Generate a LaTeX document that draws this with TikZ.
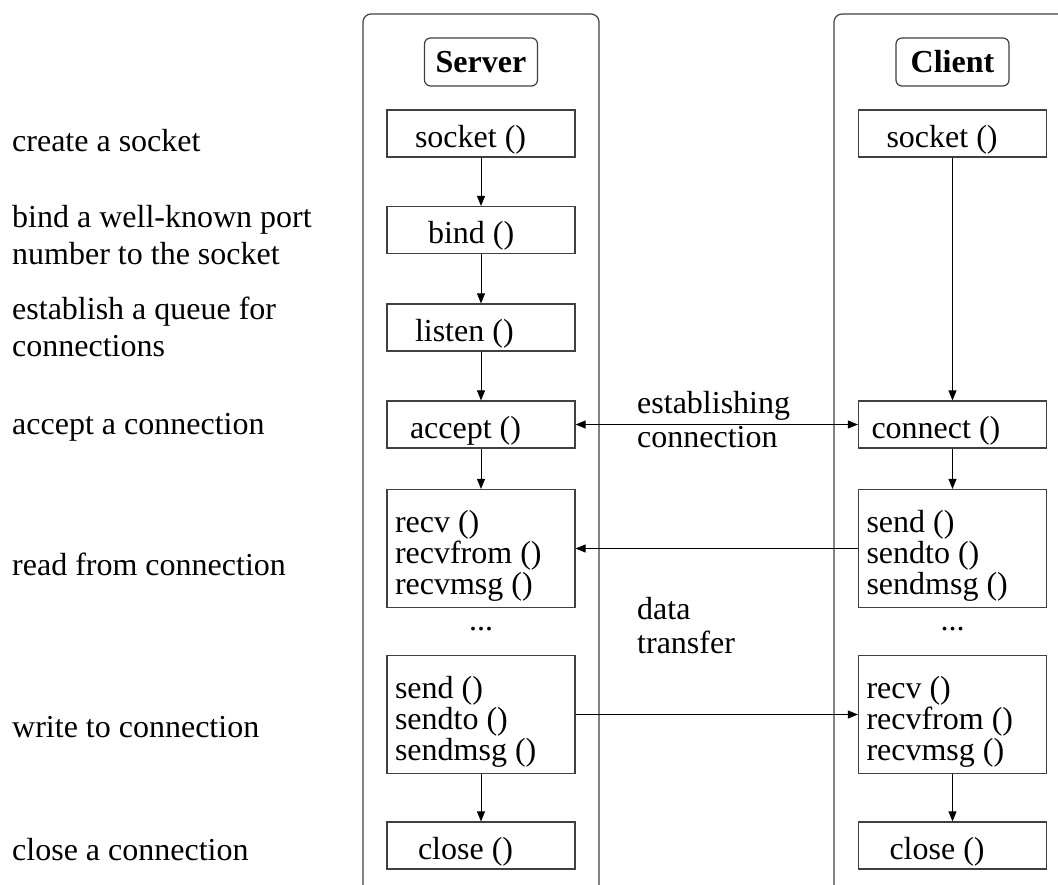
\documentclass[tikz,border=0pt]{standalone}
\usepackage{fontspec}
\setmainfont{Liberation Serif}
\usetikzlibrary{arrows.meta}
\newcommand\diagfont{\fontsize{32bp}{37bp}\selectfont}
\newcommand\callfont{\fontsize{32bp}{31bp}\selectfont}
\newcommand\midfont{\fontsize{32bp}{34bp}\selectfont}
\begin{document}
\begin{tikzpicture}[x=1bp,y=-1bp,
  every node/.style={execute at begin node={\spaceskip=0pt\xspaceskip=0pt}},
  lane/.style={draw=black!75, line width=1.2bp, rounded corners=8bp},
  head/.style={draw=black!75, line width=1.2bp, rounded corners=6bp,
    minimum width=113bp, minimum height=48bp, inner sep=0pt,
    font=\diagfont\bfseries},
  call/.style={draw=black!75, line width=1.2bp, minimum width=188bp,
    minimum height=47bp, text width=172bp, inner xsep=8bp, inner ysep=0pt,
    align=left, text height=27bp, text depth=0bp, font=\callfont},
  calls/.style={call, minimum height=118bp, text height=24bp, text depth=56bp},
  note/.style={anchor=base west, inner sep=0pt, text width=340bp,
    align=left, font=\diagfont},
  midnote/.style={anchor=base west, inner sep=0pt, text width=190bp,
    align=left, font=\midfont},
  dots/.style={anchor=base, inner sep=0pt, font=\diagfont},
  tip/.tip={Triangle[length=10bp,width=8bp]},
  flow/.style={-tip, line width=0.9bp},
  both/.style={tip-tip, line width=0.9bp}]
\useasboundingbox (0,0) rectangle (1058,885);

% swim lanes, open at the bottom
\draw[lane] (363,885) -- (363,14) -- (599,14) -- (599,885);
\draw[lane] (834,885) -- (834,14) -- (1058,14);

% lane titles
\node[head] (shead) at (481,62) {Server};
\node[head] (chead) at (952.5,62) {Client};

% server calls
\node[call]  (ssock)  at (481,133.5) {\hspace*{20bp}socket ()};
\node[call]  (sbind)  at (481,230)   {\hspace*{33bp}bind ()};
\node[call]  (slist)  at (481,327.5) {\hspace*{20bp}listen ()};
\node[call]  (sacc)   at (481,424.5) {\hspace*{15bp}accept ()};
\node[calls] (srecv)  at (481,548.5) {recv ()\\recvfrom ()\\recvmsg ()};
\node[calls] (ssend)  at (481,714.5) {send ()\\sendto ()\\sendmsg ()};
\node[call]  (sclose) at (481,845.5) {\hspace*{23bp}close ()};
\node[dots]  (sdots)  at (481,630)   {...};

% client calls
\node[call]  (csock)  at (952.5,133.5) {\hspace*{20bp}socket ()};
\node[call]  (cconn)  at (952.5,424.5) {\hspace*{5bp}connect ()};
\node[calls] (csend)  at (952.5,548.5) {send ()\\sendto ()\\sendmsg ()};
\node[calls] (crecv)  at (952.5,714.5) {recv ()\\recvfrom ()\\recvmsg ()};
\node[call]  (cclose) at (952.5,845.5) {\hspace*{23bp}close ()};
\node[dots]  (cdots)  at (952.5,630)   {...};

% step descriptions
\node[note] (dsock)  at (12,151) {create a socket};
\node[note] (dbind)  at (12,227) {bind a well-known port\\number to the socket};
\node[note] (dlist)  at (12,319) {establish a queue for\\connections};
\node[note] (dacc)   at (12,434) {accept a connection};
\node[note] (dread)  at (12,575) {read from connection};
\node[note] (dwrite) at (12,737) {write to connection};
\node[note] (dclose) at (12,860) {close a connection};

% exchange labels
\node[midnote] (lest)  at (637,413) {establishing\\connection};
\node[midnote] (ldata) at (637,619) {data\\transfer};

% control flow
\draw[flow] (ssock) -- (sbind);
\draw[flow] (sbind) -- (slist);
\draw[flow] (slist) -- (sacc);
\draw[flow] (sacc) -- (srecv);
\draw[flow] (ssend) -- (sclose);
\draw[flow] (csock) -- (cconn);
\draw[flow] (cconn) -- (csend);
\draw[flow] (crecv) -- (cclose);

% messages between the two sides
\draw[both] (sacc) -- (cconn);
\draw[flow] (csend) -- (srecv);
\draw[flow] (ssend) -- (crecv);
\end{tikzpicture}
\end{document}
